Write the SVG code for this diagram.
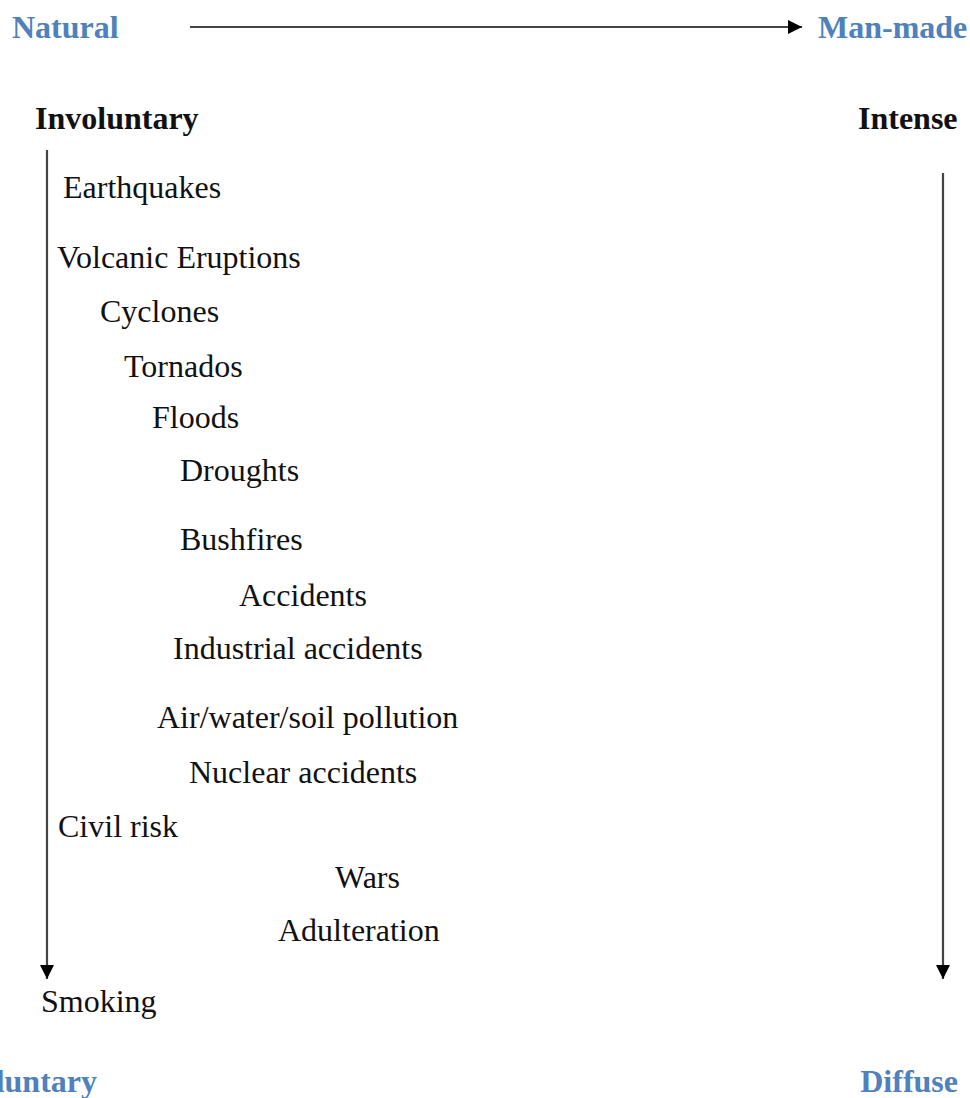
<svg xmlns="http://www.w3.org/2000/svg" width="970" height="1098" viewBox="0 0 970 1098">
<style>
.t{font-family:"Liberation Serif","Times New Roman",serif;font-size:32px;fill:#111}
.h{font-family:"Liberation Serif","Times New Roman",serif;font-size:32px;font-weight:bold;fill:#111}
.b{font-family:"Liberation Serif","Times New Roman",serif;font-size:32px;font-weight:bold;fill:#4f81bd}
.ln{stroke:#444;stroke-width:2.2;fill:none}
</style>
<defs>
<marker id="ah" viewBox="0 0 10 10" refX="10" refY="5" markerWidth="6.5" markerHeight="6.5" markerUnits="strokeWidth" orient="auto">
<path d="M0,0 L10,5 L0,10 z" fill="#000"/>
</marker>
</defs>
<rect width="970" height="1098" fill="#fff"/>
<g id="connectors">
<line class="ln" x1="190" y1="27" x2="802" y2="27" marker-end="url(#ah)"/>
<line class="ln" x1="47" y1="150" x2="47" y2="979" marker-end="url(#ah)"/>
<line class="ln" x1="943" y1="173" x2="943" y2="979" marker-end="url(#ah)"/>
</g>
<g id="natural"><text class="b" x="12" y="38">Natural</text></g>
<g id="manmade"><text class="b" x="818" y="38">Man-made</text></g>
<g id="involuntary"><text class="h" x="35" y="129">Involuntary</text></g>
<g id="intense"><text class="h" x="858" y="129">Intense</text></g>
<g id="voluntary"><text class="b" x="97" y="1092" text-anchor="end">Voluntary</text></g>
<g id="diffuse"><text class="b" x="958" y="1092" text-anchor="end">Diffuse</text></g>
<g id="earthquakes"><text class="t" x="63" y="198">Earthquakes</text></g>
<g id="volcanic"><text class="t" x="57" y="268">Volcanic Eruptions</text></g>
<g id="cyclones"><text class="t" x="100" y="322">Cyclones</text></g>
<g id="tornados"><text class="t" x="124" y="377">Tornados</text></g>
<g id="floods"><text class="t" x="152" y="428">Floods</text></g>
<g id="droughts"><text class="t" x="180" y="481">Droughts</text></g>
<g id="bushfires"><text class="t" x="180" y="550">Bushfires</text></g>
<g id="accidents"><text class="t" x="239" y="606">Accidents</text></g>
<g id="industrial"><text class="t" x="173" y="659">Industrial accidents</text></g>
<g id="pollution"><text class="t" x="157" y="728">Air/water/soil pollution</text></g>
<g id="nuclear"><text class="t" x="189" y="783">Nuclear accidents</text></g>
<g id="civil"><text class="t" x="58" y="837">Civil risk</text></g>
<g id="wars"><text class="t" x="335" y="888">Wars</text></g>
<g id="adulteration"><text class="t" x="278" y="941">Adulteration</text></g>
<g id="smoking"><text class="t" x="41" y="1012">Smoking</text></g>
</svg>
